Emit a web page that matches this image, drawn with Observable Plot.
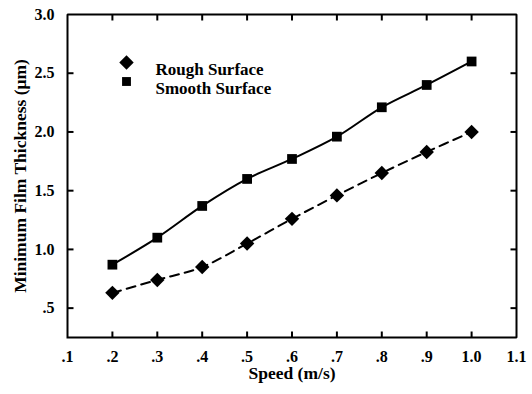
<!DOCTYPE html>
<html><head><meta charset="utf-8">
<script src="https://cdn.jsdelivr.net/npm/d3@7"></script>
<script src="https://cdn.jsdelivr.net/npm/@observablehq/plot@0.6"></script>
<style>
html,body{margin:0;padding:0;background:#fff;overflow:hidden;}
#chart svg{display:block;}
</style>
</head><body><div id="chart"></div>
<script>
const speed = [0.2, 0.3, 0.4, 0.5, 0.6, 0.7, 0.8, 0.9, 1.0];
const rough = [0.63, 0.74, 0.85, 1.05, 1.26, 1.46, 1.65, 1.83, 2.00];
const smooth = [0.87, 1.10, 1.37, 1.60, 1.77, 1.96, 2.21, 2.40, 2.60];
const seriesNames = ["Rough Surface", "Smooth Surface"];
const xTicks = [0.1, 0.2, 0.3, 0.4, 0.5, 0.6, 0.7, 0.8, 0.9, 1.0, 1.1];
const yTicks = [0.5, 1.0, 1.5, 2.0, 2.5, 3.0];
const xDomain = [0.1, 1.1];
const yDomain = [0.25, 3.0];
const xLabel = "Speed (m/s)";
const yLabel = "Minimum Film Thickness (\u03bcm)";

const fmt = d => { const s = d3.format(".1f")(d); return d < 1 ? s.slice(1) : s; };
const roughData = speed.map((x, i) => ({x, y: rough[i]}));
const smoothData = speed.map((x, i) => ({x, y: smooth[i]}));
const innerX = xTicks.slice(1, -1);
const innerY = yTicks.slice(0, -1);
const frameBox = [
  {x: xDomain[0], y: yDomain[0]}, {x: xDomain[1], y: yDomain[0]},
  {x: xDomain[1], y: yDomain[1]}, {x: xDomain[0], y: yDomain[1]},
  {x: xDomain[0], y: yDomain[0]}
];
// inward tick drawn as a short stroke symbol
const tickSymbol = {draw(context) { context.moveTo(0, 0); context.lineTo(0, -6); }};
const tickStyle = {symbol: tickSymbol, r: 3, fill: "none", stroke: "#000", strokeWidth: 2};
const font = "Liberation Serif, Times New Roman, serif";

const chart = Plot.plot({
  width: 532, height: 394,
  marginLeft: 67, marginRight: 16, marginTop: 14, marginBottom: 57,
  style: {fontFamily: font, fontWeight: "bold", color: "#000", background: "#fff"},
  x: {domain: xDomain},
  y: {domain: yDomain},
  marks: [
    Plot.axisX(xTicks, {anchor: "bottom", tickSize: 0, tickPadding: 13, tickFormat: fmt, fontSize: 16, fontWeight: "bold", label: null}),
    Plot.axisY(yTicks, {anchor: "left", tickSize: 0, tickPadding: 13, tickFormat: fmt, fontSize: 16, fontWeight: "bold", label: null}),
    Plot.line(frameBox, {x: "x", y: "y", stroke: "#000", strokeWidth: 2, strokeLinejoin: "miter", strokeLinecap: "square"}),
    Plot.dot(innerX, {x: d => d, frameAnchor: "bottom", ...tickStyle}),
    Plot.dot(innerX, {x: d => d, frameAnchor: "top", rotate: 180, ...tickStyle}),
    Plot.dot(innerY, {y: d => d, frameAnchor: "left", rotate: 90, ...tickStyle}),
    Plot.dot(innerY, {y: d => d, frameAnchor: "right", rotate: -90, ...tickStyle}),
    Plot.text([xLabel], {frameAnchor: "bottom", dy: 41, textAnchor: "middle", fontSize: 17.5, fontWeight: "bold"}),
    Plot.text([yLabel], {frameAnchor: "left", dx: -47, textAnchor: "middle", rotate: -90, fontSize: 17.5, fontWeight: "bold"}),
    Plot.line(roughData, {x: "x", y: "y", curve: "catmull-rom", stroke: "#000", strokeWidth: 2, strokeDasharray: "9,6"}),
    Plot.line(smoothData, {x: "x", y: "y", curve: "catmull-rom", stroke: "#000", strokeWidth: 2}),
    Plot.dot(roughData, {x: "x", y: "y", symbol: "diamond2", r: 6.5, fill: "#000"}),
    Plot.dot(smoothData, {x: "x", y: "y", symbol: "square", r: 5.5, fill: "#000"}),
    Plot.dot([seriesNames[0]], {frameAnchor: "top-left", dx: 59, dy: 48, symbol: "diamond2", r: 6.5, fill: "#000"}),
    Plot.dot([seriesNames[1]], {frameAnchor: "top-left", dx: 59, dy: 67, symbol: "square", r: 5, fill: "#000"}),
    Plot.text([seriesNames[0]], {frameAnchor: "top-left", dx: 88, dy: 48, textAnchor: "start", fontSize: 17, fontWeight: "bold"}),
    Plot.text([seriesNames[1]], {frameAnchor: "top-left", dx: 88, dy: 67, textAnchor: "start", fontSize: 17, fontWeight: "bold"})
  ]
});
document.getElementById("chart").appendChild(chart);
</script>
</body></html>
